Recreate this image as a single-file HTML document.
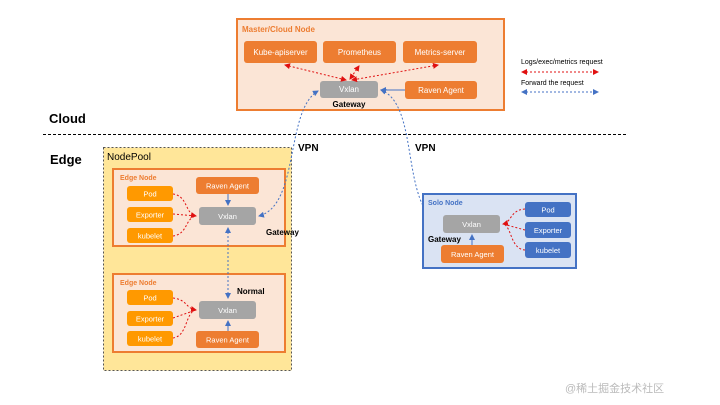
<!DOCTYPE html>
<html><head><meta charset="utf-8"><style>
html,body{margin:0;padding:0;background:#fff;width:720px;height:405px;overflow:hidden}
text{font-family:"Liberation Sans","Noto Sans CJK SC",sans-serif}
</style></head><body>
<svg width="720" height="405" viewBox="0 0 720 405" xmlns="http://www.w3.org/2000/svg">
<defs>
<marker id="rh" markerWidth="6" markerHeight="6" refX="5" refY="3" orient="auto"><path d="M0,0 L6,3 L0,6z" fill="#e01010"/></marker>
<marker id="bh" markerWidth="6" markerHeight="6" refX="5" refY="3" orient="auto"><path d="M0,0 L6,3 L0,6z" fill="#4472c4"/></marker>
<marker id="rt" markerWidth="6" markerHeight="6" refX="1" refY="3" orient="auto"><path d="M6,0 L0,3 L6,6z" fill="#e01010"/></marker>
<marker id="bt" markerWidth="6" markerHeight="6" refX="1" refY="3" orient="auto"><path d="M6,0 L0,3 L6,6z" fill="#4472c4"/></marker>
</defs>
<!-- Master -->
<rect x="237" y="19" width="267" height="91" fill="#fbe5d6" stroke="#ed7d31" stroke-width="2"/>
<text x="242" y="32" font-size="8" font-weight="bold" fill="#ed7d31">Master/Cloud Node</text>
<g font-size="8" fill="#fff" text-anchor="middle">
<rect x="244" y="41" width="73" height="22" rx="3" fill="#ed7d31"/><text x="280.5" y="55">Kube-apiserver</text>
<rect x="323" y="41" width="73" height="22" rx="3" fill="#ed7d31"/><text x="359.5" y="55">Prometheus</text>
<rect x="403" y="41" width="74" height="22" rx="3" fill="#ed7d31"/><text x="440" y="55">Metrics-server</text>
<rect x="320" y="81" width="58" height="17" rx="3" fill="#a5a5a5"/><text x="349" y="92">Vxlan</text>
<rect x="405" y="81" width="72" height="18" rx="3" fill="#ed7d31"/><text x="441" y="93">Raven Agent</text>
</g>
<text x="349" y="107" font-size="8" font-weight="bold" text-anchor="middle">Gateway</text>
<g stroke="#e01010" stroke-dasharray="2,2" fill="none" stroke-width="1">
<line x1="285" y1="65" x2="346" y2="80" marker-start="url(#rt)" marker-end="url(#rh)"/>
<line x1="359" y1="66" x2="350" y2="79" marker-start="url(#rt)" marker-end="url(#rh)"/>
<line x1="438" y1="65" x2="352" y2="80" marker-start="url(#rt)" marker-end="url(#rh)"/>
</g>
<line x1="405" y1="90" x2="381" y2="90" stroke="#4472c4" marker-end="url(#bh)"/>
<!-- legend -->
<text x="521" y="64" font-size="7">Logs/exec/metrics request</text>
<line x1="522" y1="72" x2="598" y2="72" stroke="#e01010" stroke-dasharray="2,2" marker-start="url(#rt)" marker-end="url(#rh)"/>
<text x="521" y="85" font-size="7">Forward the request</text>
<line x1="522" y1="92" x2="598" y2="92" stroke="#4472c4" stroke-dasharray="2,2" marker-start="url(#bt)" marker-end="url(#bh)"/>
<!-- cloud/edge -->
<text x="49" y="123" font-size="13" font-weight="bold">Cloud</text>
<line x1="43" y1="134.5" x2="626" y2="134.5" stroke="#000" stroke-dasharray="3,2"/>
<text x="50" y="164" font-size="13" font-weight="bold">Edge</text>
<!-- NodePool -->
<rect x="103.5" y="147.5" width="188" height="223" fill="#ffe699" stroke="#555" stroke-dasharray="2,2"/>
<text x="107" y="160" font-size="10">NodePool</text>
<!-- Edge node 1 -->
<rect x="113" y="169" width="172" height="77" fill="#fbe5d6" stroke="#ed7d31" stroke-width="2"/>
<text x="120" y="180" font-size="7" font-weight="bold" fill="#ed7d31">Edge Node</text>
<g font-size="7.5" fill="#fff" text-anchor="middle">
<rect x="127" y="186" width="46" height="15" rx="3" fill="#ff9900"/><text x="150" y="196.5">Pod</text>
<rect x="127" y="207" width="46" height="15" rx="3" fill="#ff9900"/><text x="150" y="217.5">Exporter</text>
<rect x="127" y="228" width="46" height="15" rx="3" fill="#ff9900"/><text x="150" y="238.5">kubelet</text>
<rect x="196" y="177" width="63" height="17" rx="3" fill="#ed7d31"/><text x="227.5" y="188.5">Raven Agent</text>
<rect x="199" y="207" width="57" height="18" rx="3" fill="#a5a5a5"/><text x="227.5" y="219">Vxlan</text>
</g>
<text x="266" y="235" font-size="8" font-weight="bold">Gateway</text>
<!-- Edge node 2 -->
<rect x="113" y="274" width="172" height="78" fill="#fbe5d6" stroke="#ed7d31" stroke-width="2"/>
<text x="120" y="285" font-size="7" font-weight="bold" fill="#ed7d31">Edge Node</text>
<g font-size="7.5" fill="#fff" text-anchor="middle">
<rect x="127" y="290" width="46" height="15" rx="3" fill="#ff9900"/><text x="150" y="300.5">Pod</text>
<rect x="127" y="311" width="46" height="15" rx="3" fill="#ff9900"/><text x="150" y="321.5">Exporter</text>
<rect x="127" y="331" width="46" height="15" rx="3" fill="#ff9900"/><text x="150" y="341.5">kubelet</text>
<rect x="199" y="301" width="57" height="18" rx="3" fill="#a5a5a5"/><text x="227.5" y="313">Vxlan</text>
<rect x="196" y="331" width="63" height="17" rx="3" fill="#ed7d31"/><text x="227.5" y="342.5">Raven Agent</text>
</g>
<text x="237" y="294" font-size="8" font-weight="bold">Normal</text>
<g stroke="#e01010" stroke-dasharray="2,2" fill="none">
<path d="M173,194 C188,196 185,214 196,216" marker-end="url(#rh)"/>
<path d="M173,214 L196,216"/>
<path d="M173,236 C188,234 185,218 196,216"/>
<path d="M173,298 C188,300 185,308 196,310" marker-end="url(#rh)"/>
<path d="M173,318 L196,310"/>
<path d="M173,338 C188,336 185,312 196,310"/>
</g>
<g stroke="#4472c4" fill="none">
<line x1="228" y1="194" x2="228" y2="205" marker-end="url(#bh)"/>
<line x1="228" y1="331" x2="228" y2="321" marker-end="url(#bh)"/>
<line x1="228" y1="228" x2="228" y2="298" stroke-dasharray="2,2" marker-start="url(#bt)" marker-end="url(#bh)"/>
<path d="M318,91 C285,110 300,205 259,216" stroke-dasharray="2,2" marker-start="url(#bt)" marker-end="url(#bh)"/>
<path d="M381,90 C420,105 400,205 440,224" stroke-dasharray="2,2" marker-start="url(#bt)" marker-end="url(#bh)"/>
</g>
<text x="298" y="151" font-size="10" font-weight="bold">VPN</text>
<text x="415" y="151" font-size="10" font-weight="bold">VPN</text>
<!-- Solo node -->
<rect x="423" y="194" width="153" height="74" fill="#dae3f3" stroke="#4472c4" stroke-width="2"/>
<text x="428" y="205" font-size="7" font-weight="bold" fill="#4472c4">Solo Node</text>
<g font-size="7.5" fill="#fff" text-anchor="middle">
<rect x="443" y="215" width="57" height="18" rx="3" fill="#a5a5a5"/><text x="471.5" y="227">Vxlan</text>
<rect x="525" y="202" width="46" height="15" rx="3" fill="#4472c4"/><text x="548" y="212.5">Pod</text>
<rect x="525" y="222" width="46" height="16" rx="3" fill="#4472c4"/><text x="548" y="233">Exporter</text>
<rect x="525" y="242" width="46" height="16" rx="3" fill="#4472c4"/><text x="548" y="253">kubelet</text>
<rect x="441" y="245" width="63" height="18" rx="3" fill="#ed7d31"/><text x="472.5" y="257">Raven Agent</text>
</g>
<text x="428" y="242" font-size="8" font-weight="bold">Gateway</text>
<line x1="472" y1="245" x2="472" y2="235" stroke="#4472c4" marker-end="url(#bh)"/>
<g stroke="#e01010" stroke-dasharray="2,2" fill="none">
<path d="M525,209 C510,210 512,222 503,224" marker-end="url(#rh)"/>
<path d="M525,230 L503,224"/>
<path d="M525,250 C510,249 512,226 503,224"/>
</g>
<text x="565" y="392" font-size="11" fill="#bbb">@稀土掘金技术社区</text>
</svg>
</body></html>
